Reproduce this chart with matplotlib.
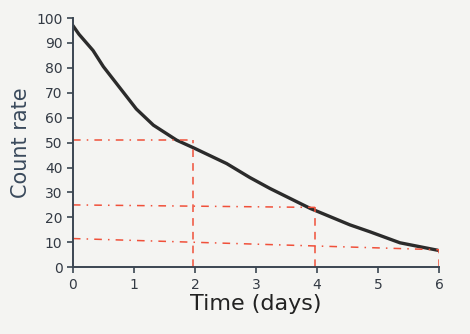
import matplotlib
matplotlib.use('Agg')
import matplotlib.pyplot as plt

# decay curve
t = [0, 0.1, 0.33, 0.5, 0.77, 1.04, 1.32, 1.7, 1.97, 2.52, 2.9, 3.23, 3.89, 4.54, 4.87, 5.36, 5.98]
count = [97, 93.5, 87, 80.5, 72, 63.5, 57, 51, 48, 41.6, 36, 31.6, 23.6, 17, 14.2, 9.8, 6.8]

# half-life construction lines: level at t=0, level at read time, read time
guide_start = [51, 25, 11.5]
guide_end = [51, 24, 7]
guide_time = [1.97, 3.97, 6]

INK = '#2b2b2b'
AX = '#3b4652'
RED = '#f0503a'
BG = '#f4f4f2'

fig = plt.figure(figsize=(4.7, 3.34), dpi=100, facecolor=BG)
ax = fig.add_axes([0.155, 0.2, 0.779, 0.746], facecolor=BG)

ax.plot(t, count, color=INK, lw=2.4, solid_capstyle='round', solid_joinstyle='round')
for a, b, tm in zip(guide_start, guide_end, guide_time):
    ax.plot([0, tm], [a, b], color=RED, lw=1.1, ls=(0, (5, 4, 1, 4)))
    ax.plot([tm, tm], [0, b], color=RED, lw=1.1, ls=(0, (5, 4)))

ax.set_xlim(0, 6)
ax.set_ylim(0, 100)
ax.set_xticks(range(0, 7))
ax.set_yticks(range(0, 101, 10))
for s in ['top', 'right']:
    ax.spines[s].set_visible(False)
for s in ['left', 'bottom']:
    ax.spines[s].set_color(AX)
    ax.spines[s].set_linewidth(1.4)
ax.tick_params(colors=AX, labelcolor='#333a44', labelsize=10, length=4, width=1.2)
ax.set_xlabel('Time (days)', fontsize=16, color='#222', labelpad=2)
ax.set_ylabel('Count rate', fontsize=15, color='#3a4a5c', labelpad=4)

fig.savefig('out.png', dpi=100, facecolor=BG)
